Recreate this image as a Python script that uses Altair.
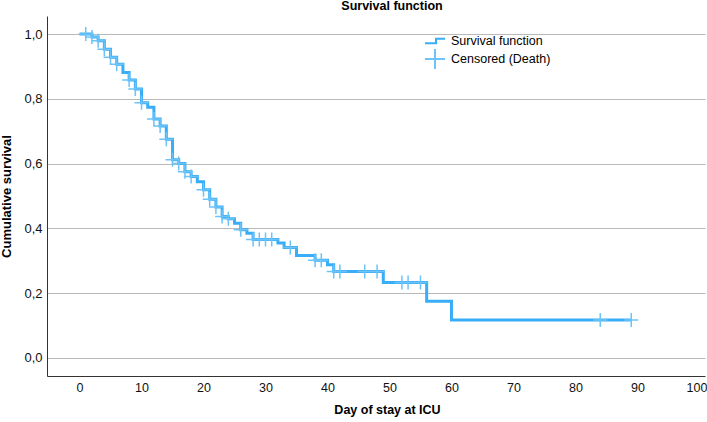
import altair as alt
import pandas as pd

# ---- data ----
step_days = [0, 2, 3, 4, 5, 6, 7, 8, 9, 10, 11, 12, 13, 14, 15, 16, 17, 18, 19, 20,
             21, 22, 23, 24, 25, 26, 27, 28, 32, 33, 35, 38, 40, 41, 49, 56, 60, 89]
step_surv = [1.0, 0.991, 0.979, 0.953, 0.928, 0.907, 0.881, 0.858, 0.830, 0.788,
             0.774, 0.738, 0.716, 0.675, 0.612, 0.600, 0.575, 0.560, 0.544, 0.519,
             0.490, 0.466, 0.437, 0.430, 0.416, 0.396, 0.385, 0.366,
             0.355, 0.341, 0.316, 0.302, 0.288, 0.267,
             0.233, 0.175, 0.117, 0.117]

censor_days = [1, 2, 3, 4, 5, 6, 8, 9, 10, 12, 13, 14, 15, 16, 17, 18, 20, 21, 22, 23,
               24, 26, 28, 29, 30, 31, 34, 38, 39, 41, 42, 46, 48, 52, 53, 55, 84, 89]
censor_surv = [1.0, 0.991, 0.979, 0.953, 0.928, 0.907, 0.858, 0.830, 0.788, 0.738,
               0.716, 0.675, 0.612, 0.600, 0.575, 0.560, 0.519, 0.490, 0.466, 0.437,
               0.430, 0.396, 0.366, 0.366, 0.366, 0.366, 0.341, 0.302, 0.302, 0.267,
               0.267, 0.267, 0.267, 0.233, 0.233, 0.233, 0.117, 0.117]

series_names = ["Survival function", "Censored (Death)"]
x_ticks = [0, 10, 20, 30, 40, 50, 60, 70, 80, 90, 100]
y_ticks = [0.0, 0.2, 0.4, 0.6, 0.8, 1.0]

LINE_COLOR = "#38adf8"
CROSS_COLOR = "#6cc3f8"
STEP_PATH = "M-1,0.22H0.1V-0.23H1"
CROSS_PATH = "M-1,0H1M0,-1V1"

curve = pd.DataFrame({"day": step_days, "surv": step_surv})
cens = pd.DataFrame({"day": censor_days, "surv": censor_surv,
                     "series": [series_names[1]] * len(censor_days)})

x_scale = alt.Scale(domain=[-5.25, 100.9], nice=False, zero=False)
y_scale = alt.Scale(domain=[-0.0556, 1.0556], nice=False, zero=False)

AX_FONT = "Liberation Sans, Arial"

x_axis = alt.Axis(values=x_ticks, title="Day of stay at ICU", grid=False, ticks=False,
                  labelPadding=5, labelFontSize=12.5, labelFont=AX_FONT, labelColor="#111",
                  labelOffset={"condition": {"test": "datum.value == 100", "value": -3},
                               "value": 0},
                  titleFont=AX_FONT, titleFontSize=12.5, titleFontWeight="bold",
                  titleColor="#000", titlePadding=10, titleX=340,
                  domainColor="#333", domainWidth=1, labelFlush=False)
y_axis = alt.Axis(values=y_ticks, title="Cumulative survival", grid=True, ticks=False,
                  labelExpr="replace(format(datum.value, '.1f'), '.', ',')",
                  labelPadding=5, labelFontSize=13, labelFont=AX_FONT, labelColor="#111",
                  titleFont=AX_FONT, titleFontSize=13, titleFontWeight="bold",
                  titleColor="#000", titlePadding=10,
                  gridColor="#b9b9b9", gridWidth=1,
                  domainColor="#333", domainWidth=1)

legend = alt.Legend(title=None, orient="none", legendX=377, legendY=14,
                    symbolSize=400, symbolStrokeWidth=2, rowPadding=-4,
                    labelFont="Liberation Sans, Arial", labelFontSize=12.5,
                    labelColor="#000", labelOffset=5, padding=0)

line = alt.Chart(curve).mark_line(interpolate="step-after", color=LINE_COLOR,
                                  strokeWidth=3).encode(
    x=alt.X("day:Q", scale=x_scale, axis=x_axis),
    y=alt.Y("surv:Q", scale=y_scale, axis=y_axis),
)

points = alt.Chart(cens).mark_point(filled=False, size=196, strokeWidth=1.5,
                                    opacity=1).encode(
    x=alt.X("day:Q", scale=x_scale),
    y=alt.Y("surv:Q", scale=y_scale),
    shape=alt.Shape("series:N",
                    scale=alt.Scale(domain=series_names, range=[STEP_PATH, CROSS_PATH]),
                    legend=legend),
    color=alt.Color("series:N",
                    scale=alt.Scale(domain=series_names, range=[LINE_COLOR, CROSS_COLOR]),
                    legend=legend),
)

chart = (line + points).properties(
    width=658, height=360,
    title=alt.TitleParams("Survival function", anchor="middle", dx=16, dy=6, offset=4,
                          baseline="middle", font=AX_FONT, fontSize=12.5,
                          fontWeight="bold", color="#000"),
    autosize=alt.AutoSizeParams(type="none"),
    padding={"left": 47, "top": 16, "right": 2, "bottom": 46},
    background="white",
).configure_view(stroke=None)

chart.save("out.html", embed_options={"renderer": "svg", "actions": False})
